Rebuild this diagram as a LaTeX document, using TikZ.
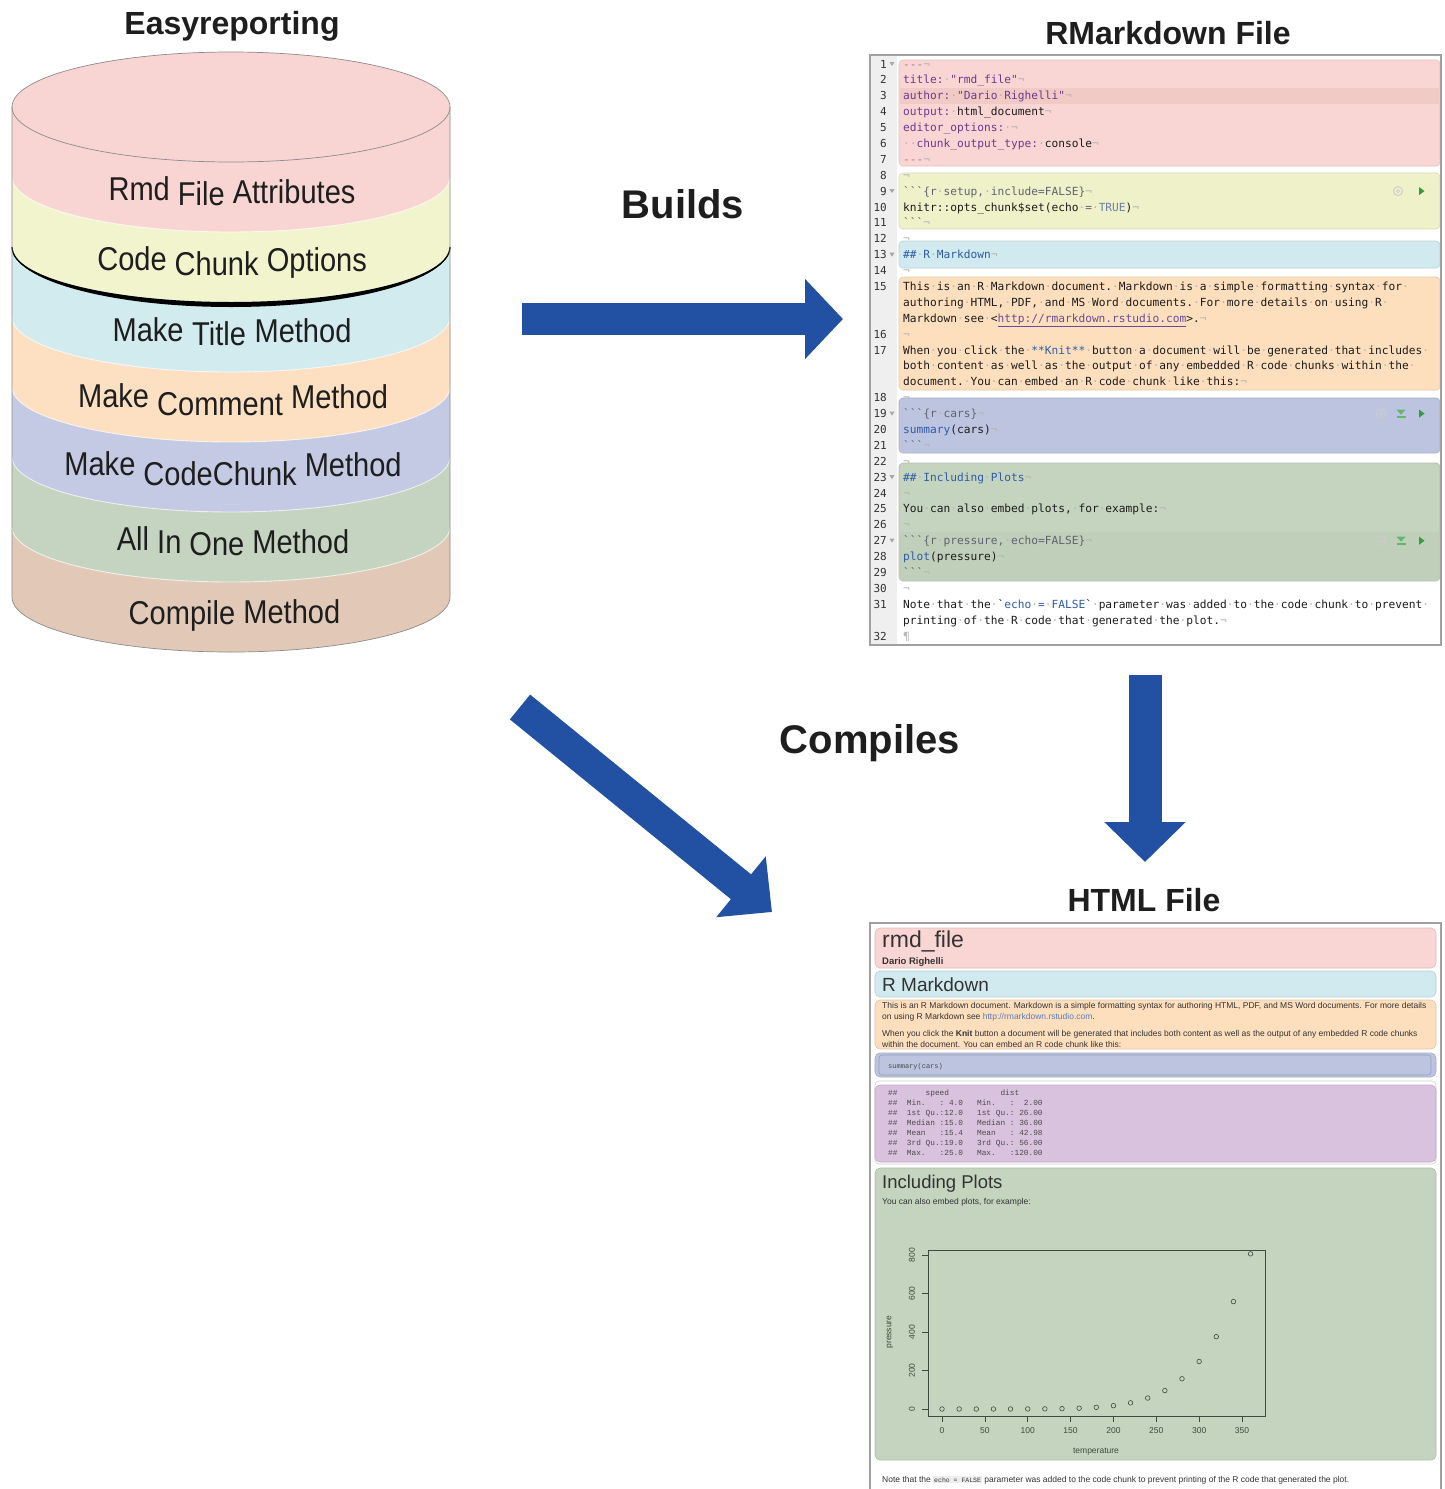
\documentclass[tikz,border=0pt]{standalone}
\usepackage{fontspec}
\setmainfont{Liberation Sans}
\setmonofont{DejaVu Sans Mono}
\newfontfamily\cylfont[FakeStretch=0.88]{Liberation Sans}
\newfontfamily\htmono{Liberation Mono}
\usetikzlibrary{arrows.meta}
\setlength{\fboxsep}{1pt}
% cylinder colours
\definecolor{cpink}{HTML}{F8D5D2}
\definecolor{cyellow}{HTML}{F2F4CE}
\definecolor{cblue}{HTML}{D2EBEF}
\definecolor{corange}{HTML}{FDE0C1}
\definecolor{clav}{HTML}{C4C9E4}
\definecolor{cgreen}{HTML}{C4D4C0}
\definecolor{ctan}{HTML}{E2C9B7}
\definecolor{cylline}{HTML}{8C8C8C}
% panels
\definecolor{rpink}{HTML}{F9D6D3}
\definecolor{rpinkdark}{HTML}{F1CAC6}
\definecolor{ryellow}{HTML}{EFF1C9}
\definecolor{rcyan}{HTML}{D0EAEF}
\definecolor{rorange}{HTML}{FDDFBE}
\definecolor{rperi}{HTML}{BCC4E0}
\definecolor{rgreen}{HTML}{C4D4BF}
\definecolor{rgreendark}{HTML}{BFCFBA}
\definecolor{hmauve}{HTML}{D9C2DD}
\definecolor{gutter}{HTML}{EFEFEF}
\definecolor{framegray}{HTML}{A0A0A0}
\definecolor{arrowblue}{HTML}{2251A3}
\definecolor{titlecol}{HTML}{1E1E1E}
\definecolor{codeblack}{HTML}{1C1C1C}
\definecolor{numgray}{HTML}{333333}
\definecolor{wsgray}{HTML}{B4B4B4}
\definecolor{kpurple}{HTML}{6C3A8E}
\definecolor{kdash}{HTML}{9C7C98}
\definecolor{kgray}{HTML}{5E6470}
\definecolor{kblue}{HTML}{2F5BA8}
\definecolor{kblue2}{HTML}{6B7FA8}
\definecolor{klink}{HTML}{6A4A9A}
\definecolor{htmlgray}{HTML}{333333}
\definecolor{outgray}{HTML}{4A4A4A}
\definecolor{linkblue}{HTML}{5A7AB8}
\definecolor{plotcol}{HTML}{3E4A3E}
\definecolor{rungreen}{HTML}{2E9E3E}
\definecolor{codebg}{HTML}{EDEDED}
\newcommand\cyltext{\cylfont\fontsize{33}{38}\selectfont}
\newcommand\rmdline[2]{\node[codest] (rl#1) at (903,{-(68+15.89*#1)}) {#2};}
% one word of a cylinder label, set on the arc of band #2, centred at x=#3
\newcommand\cylword[4]{%
  \pgfmathsetmacro\cwu{(#3-231)/219}%
  \pgfmathsetmacro\cwy{-(81+70*#2)-55*sqrt(1-\cwu*\cwu)}%
  \node[cylw] (#1) at (#3,\cwy) {#4};%
}
\tikzset{
  titlef/.style={font=\bfseries\fontsize{32}{38}\selectfont, text=titlecol, inner sep=0pt, anchor=base},
  verbf/.style={font=\bfseries\fontsize{40}{48}\selectfont, text=titlecol, inner sep=0pt, anchor=base},
  cylw/.style={font=\cyltext, text=titlecol, inner sep=0pt, anchor=base},
  bigarrow/.style={draw=arrowblue, line width=32pt, -{Triangle[length=38pt,width=78pt]}},
  codest/.style={anchor=base west, inner sep=0pt, font=\ttfamily\fontsize{11.2}{13}\selectfont, text=codeblack},
  lnumst/.style={anchor=base east, inner sep=0pt, font=\ttfamily\fontsize{11}{13}\selectfont, text=numgray},
  rblock/.style={rounded corners=4pt, fill=#1, draw=#1!90!black, line width=0.6pt},
  hblock/.style={rounded corners=5pt, fill=#1, draw=#1!88!black, line width=0.6pt},
  htext/.style={anchor=base west, inner sep=0pt, font=\fontsize{8.5}{10}\selectfont, text=htmlgray},
  hout/.style={anchor=base west, inner sep=0pt, font=\htmono\fontsize{7.8}{9}\selectfont, text=outgray},
  plotlab/.style={inner sep=0pt, font=\fontsize{8.5}{10}\selectfont, text=plotcol},
  foldmark/.style={fill=gray!70},
}
\begin{document}
\catcode`·=13
\def·{\textcolor{wsgray}{\symbol{"B7}}}
\catcode`¬=13
\def¬{\textcolor{wsgray}{\symbol{"AC}}}
\begin{tikzpicture}[x=1pt,y=1pt]
\useasboundingbox (0,0) rectangle (1445,-1489);
\fill[white] (0,0) rectangle (1445,-1489);

%================ CYLINDER =================
\foreach \k/\col in {7/ctan,6/cgreen,5/clav,4/corange,3/cblue,2/cyellow,1/cpink}{
  \fill[\col] (12,{-(107+70*(\k-1))}) -- (12,{-(107+70*\k)})
     arc[start angle=180,end angle=360,x radius=219,y radius=55]
     -- (450,{-(107+70*(\k-1))}) -- cycle;
}
\foreach \k in {1,3,4,5,6}{
  \draw[white, line width=0.9pt, opacity=0.7] (12,{-(107+70*\k)})
     arc[start angle=180,end angle=360,x radius=219,y radius=55];
}
\fill[black] (12,-247) arc[start angle=180,end angle=360,x radius=219,y radius=60]
   arc[start angle=360,end angle=180,x radius=219,y radius=55] -- cycle;
\draw[black, line width=1.3pt] (12,-247) arc[start angle=180,end angle=360,x radius=219,y radius=57];
\filldraw[fill=cpink, draw=cylline, line width=0.7pt] (231,-107) ellipse[x radius=219,y radius=55];
\draw[cylline, line width=0.7pt] (12,-107) -- (12,-597)
   arc[start angle=180,end angle=360,x radius=219,y radius=55] -- (450,-107);

% labels, word by word along the band arcs
\cylword{w1a}{1}{139.2}{Rmd}
\cylword{w1b}{1}{201.3}{File}
\cylword{w1c}{1}{294.1}{Attributes}
\cylword{w2a}{2}{132.0}{Code}
\cylword{w2b}{2}{216.7}{Chunk}
\cylword{w2c}{2}{316.8}{Options}
\cylword{w3a}{3}{148.1}{Make}
\cylword{w3b}{3}{219.1}{Title}
\cylword{w3c}{3}{303.0}{Method}
\cylword{w4a}{4}{113.6}{Make}
\cylword{w4b}{4}{220.1}{Comment}
\cylword{w4c}{4}{339.5}{Method}
\cylword{w5a}{5}{99.9}{Make}
\cylword{w5b}{5}{220.1}{CodeChunk}
\cylword{w5c}{5}{353.2}{Method}
\cylword{w6a}{6}{132.9}{All}
\cylword{w6b}{6}{169.3}{In}
\cylword{w6c}{6}{216.9}{One}
\cylword{w6d}{6}{300.8}{Method}
\cylword{w7a}{7}{182.0}{Compile}
\cylword{w7b}{7}{291.8}{Method}

%================ TITLES =================
\node[titlef] (t-easy) at (232,-34) {Easyreporting};
\node[titlef] (t-rmd) at (1168,-44) {RMarkdown File};
\node[verbf] (t-builds) at (683,-218) {Builds};
\node[verbf] (t-compiles) at (870,-753) {Compiles};
\node[titlef] (t-html) at (1144,-911) {HTML File};

%================ ARROWS =================
\coordinate (a1s) at (522,-319);
\coordinate (a1e) at (843,-319);
\draw[bigarrow] (a1s) -- (a1e);
\coordinate (a2s) at (1145,-675);
\coordinate (a2e) at (1145,-862);
\draw[bigarrow, line width=33pt, -{Triangle[length=40pt,width=79pt]}] (a2s) -- (a2e);
\coordinate (a3s) at (520,-707);
\coordinate (a3e) at (772,-912);
\draw[bigarrow, -{Triangle[length=40pt,width=76pt]}] (a3s) -- (a3e);

%================ RMARKDOWN PANEL =================
\fill[white] (870,-55) rectangle (1441,-645);
\fill[gutter] (870,-55) rectangle (897,-645);
\fill[rblock=rpink] (899,-60) rectangle (1440,-166);
\fill[rpinkdark] (899.6,-88) rectangle (1439.4,-104);
\path[rblock=ryellow] (899,-173) rectangle (1440,-229);
\path[rblock=rcyan] (899,-241) rectangle (1440,-268);
\path[rblock=rorange] (899,-277) rectangle (1440,-390);
\path[rblock=rperi] (899,-398) rectangle (1440,-453);
\path[rblock=rgreen] (899,-463) rectangle (1440,-581);
\fill[rgreendark, rounded corners=4pt] (899.6,-532) rectangle (1439.4,-580.4);
\draw[framegray, line width=1.2pt] (870,-55) rectangle (1441,-645);

\foreach \n/\r in {1/0,2/1,3/2,4/3,5/4,6/5,7/6,8/7,9/8,10/9,11/10,12/11,13/12,14/13,15/14,16/17,17/18,18/21,19/22,20/23,21/24,22/25,23/26,24/27,25/28,26/29,27/30,28/31,29/32,30/33,31/34,32/36}{
  \node[lnumst] (ln\n) at (887,{-(68+15.89*\r)}) {\n};
}
\foreach \r in {0,8,12,22,26,30}{
  \fill[foldmark] (889.5,{-(62+15.89*\r)}) -- (894.5,{-(62+15.89*\r)}) -- (892,{-(66+15.89*\r)}) -- cycle;
}

\rmdline{0}{\textcolor{kdash}{---}¬}
\rmdline{1}{\textcolor{kpurple}{title:}·\textcolor{kpurple}{"rmd\_file"}¬}
\rmdline{2}{\textcolor{kpurple}{author:}·\textcolor{kpurple}{"Dario·Righelli"}¬}
\rmdline{3}{\textcolor{kpurple}{output:}·html\_document¬}
\rmdline{4}{\textcolor{kpurple}{editor\_options:}·¬}
\rmdline{5}{··\textcolor{kpurple}{chunk\_output\_type:}·console¬}
\rmdline{6}{\textcolor{kdash}{---}¬}
\rmdline{7}{¬}
\rmdline{8}{\textcolor{kgray}{```\{r·setup,·include=FALSE\}}¬}
\rmdline{9}{knitr::opts\_chunk\$set(echo·\textcolor{kgray}{=}·\textcolor{kblue2}{TRUE})¬}
\rmdline{10}{\textcolor{kgray}{```}¬}
\rmdline{11}{¬}
\rmdline{12}{\textcolor{kblue}{\#\#·R·Markdown}¬}
\rmdline{13}{¬}
\rmdline{14}{This·is·an·R·Markdown·document.·Markdown·is·a·simple·formatting·syntax·for·}
\rmdline{15}{authoring·HTML,·PDF,·and·MS·Word·documents.·For·more·details·on·using·R·}
\rmdline{16}{Markdown·see·<\textcolor{klink}{\underline{http://rmarkdown.rstudio.com}}>.¬}
\rmdline{17}{¬}
\rmdline{18}{When·you·click·the·\textcolor{kblue}{**Knit**}·button·a·document·will·be·generated·that·includes·}
\rmdline{19}{both·content·as·well·as·the·output·of·any·embedded·R·code·chunks·within·the·}
\rmdline{20}{document.·You·can·embed·an·R·code·chunk·like·this:¬}
\rmdline{21}{¬}
\rmdline{22}{\textcolor{kgray}{```\{r·cars\}}¬}
\rmdline{23}{\textcolor{kblue}{summary}(cars)¬}
\rmdline{24}{\textcolor{kgray}{```}¬}
\rmdline{25}{¬}
\rmdline{26}{\textcolor{kblue}{\#\#·Including·Plots}¬}
\rmdline{27}{¬}
\rmdline{28}{You·can·also·embed·plots,·for·example:¬}
\rmdline{29}{¬}
\rmdline{30}{\textcolor{kgray}{```\{r·pressure,·echo=FALSE\}}¬}
\rmdline{31}{\textcolor{kblue}{plot}(pressure)¬}
\rmdline{32}{\textcolor{kgray}{```}¬}
\rmdline{33}{¬}
\rmdline{34}{Note·that·the·`\textcolor{kblue}{echo·=·FALSE}`·parameter·was·added·to·the·code·chunk·to·prevent·}
\rmdline{35}{printing·of·the·R·code·that·generated·the·plot.¬}
\rmdline{36}{\textcolor{wsgray}{¶}}

% chunk icons
\draw[gray!40, line width=0.9pt] (1398,-191.1) circle (4.5);
\draw[gray!40, line width=0.7pt] (1398,-191.1) circle (1.6);
\fill[rungreen] (1419,-187) -- (1419,-195.2) -- (1424.5,-191.1) -- cycle;
\foreach \yy in {413.6,540.7}{
  \draw[gray!40, line width=0.9pt] (1381,-\yy) circle (4.5);
  \draw[gray!40, line width=0.7pt] (1381,-\yy) circle (1.6);
  \fill[rungreen!75] (1396.5,-\yy+4) -- (1405.5,-\yy+4) -- (1401,-\yy-1) -- cycle;
  \fill[rungreen!75] (1396.5,-\yy-2.5) rectangle (1405.5,-\yy-4.5);
  \fill[rungreen] (1419,-\yy+4.1) -- (1419,-\yy-4.1) -- (1424.5,-\yy) -- cycle;
}

%================ HTML PANEL =================
\draw[framegray, line width=1.2pt] (870,-1495) -- (870,-923) -- (1441,-923) -- (1441,-1495);
\path[hblock=rpink] (875,-928) rectangle (1436,-968);
\node[anchor=base west, inner sep=0pt, font=\fontsize{23}{27}\selectfont, text=htmlgray] (h-title) at (882,-947) {rmd\_file};
\node[anchor=base west, inner sep=0pt, font=\bfseries\fontsize{9.5}{11}\selectfont, text=htmlgray] (h-author) at (882,-964) {Dario Righelli};
\path[hblock=rcyan] (875,-971) rectangle (1436,-997);
\node[anchor=base west, inner sep=0pt, font=\fontsize{19}{22}\selectfont, text=htmlgray] (h-rmd) at (882,-991.5) {R Markdown};
\path[hblock=rorange] (875,-1000) rectangle (1436,-1049);
\node[htext] (h-p1) at (882,-1008) {This is an R Markdown document. Markdown is a simple formatting syntax for authoring HTML, PDF, and MS Word documents. For more details};
\node[htext] (h-p2) at (882,-1019) {on using R Markdown see \textcolor{linkblue}{http://rmarkdown.rstudio.com}.};
\node[htext] (h-p3) at (882,-1036) {When you click the \textbf{Knit} button a document will be generated that includes both content as well as the output of any embedded R code chunks};
\node[htext] (h-p4) at (882,-1047) {within the document. You can embed an R code chunk like this:};
\path[hblock=rperi] (875,-1053) rectangle (1436,-1077);
\draw[rperi!80!black, line width=0.6pt, rounded corners=3pt] (879,-1055) rectangle (1431,-1075);
\node[anchor=base west, inner sep=0pt, font=\htmono\fontsize{7}{8}\selectfont, text=outgray] (h-sum) at (888,-1068) {summary(cars)};
\draw[gray!40, line width=0.6pt, rounded corners=4pt] (875,-1081) rectangle (1436,-1164);
\path[hblock=hmauve] (875,-1085) rectangle (1436,-1162);
\node[hout] (o0) at (888,-1095) {\#\#~~~~~~speed~~~~~~~~~~~dist};
\node[hout] (o1) at (888,-1105) {\#\#~~Min.~~~:~4.0~~~Min.~~~:~~2.00};
\node[hout] (o2) at (888,-1115) {\#\#~~1st~Qu.:12.0~~~1st~Qu.:~26.00};
\node[hout] (o3) at (888,-1125) {\#\#~~Median~:15.0~~~Median~:~36.00};
\node[hout] (o4) at (888,-1135) {\#\#~~Mean~~~:15.4~~~Mean~~~:~42.98};
\node[hout] (o5) at (888,-1145) {\#\#~~3rd~Qu.:19.0~~~3rd~Qu.:~56.00};
\node[hout] (o6) at (888,-1155) {\#\#~~Max.~~~:25.0~~~Max.~~~:120.00};
\path[hblock=rgreen] (875,-1168) rectangle (1436,-1460);
\node[anchor=base west, inner sep=0pt, font=\fontsize{18.5}{22}\selectfont, text=htmlgray] (h-incl) at (882,-1188) {Including Plots};
\node[htext] (h-emb) at (882,-1204) {You can also embed plots, for example:};
% plot
\draw[plotcol, line width=0.7pt] (928,-1250) rectangle (1265,-1416);
\foreach \v in {0,50,...,350}{
  \draw[plotcol, line width=0.7pt] ({942+0.8571*\v},-1416) -- ++(0,-6);
  \node[plotlab] (xt\v) at ({942+0.8571*\v},-1431) {\v};
}
\foreach \v in {0,200,...,800}{
  \draw[plotcol, line width=0.7pt] (928,{-1409+0.1925*\v}) -- ++(-6,0);
  \node[plotlab, rotate=90] (yt\v) at (912,{-1409+0.1925*\v}) {\v};
}
\node[plotlab, rotate=90] (ylab) at (890,-1332) {pressure};
\node[plotlab] (xlab) at (1096,-1452) {temperature};
\foreach \T/\P in {0/0.0002,20/0.0012,40/0.006,60/0.03,80/0.09,100/0.27,120/0.75,140/1.85,160/4.2,180/8.8,200/17.3,220/32.1,240/57,260/96,280/157,300/247,320/376,340/558,360/806}{
  \draw[plotcol, line width=0.6pt] ({942+0.8571*\T},{-1409+0.1925*\P}) circle (2.3);
}
\node[htext] (h-note) at (882,-1482) {Note that the \colorbox{codebg}{\htmono\fontsize{6.5}{7}\selectfont echo = FALSE} parameter was added to the code chunk to prevent printing of the R code that generated the plot.};
\end{tikzpicture}
\end{document}
